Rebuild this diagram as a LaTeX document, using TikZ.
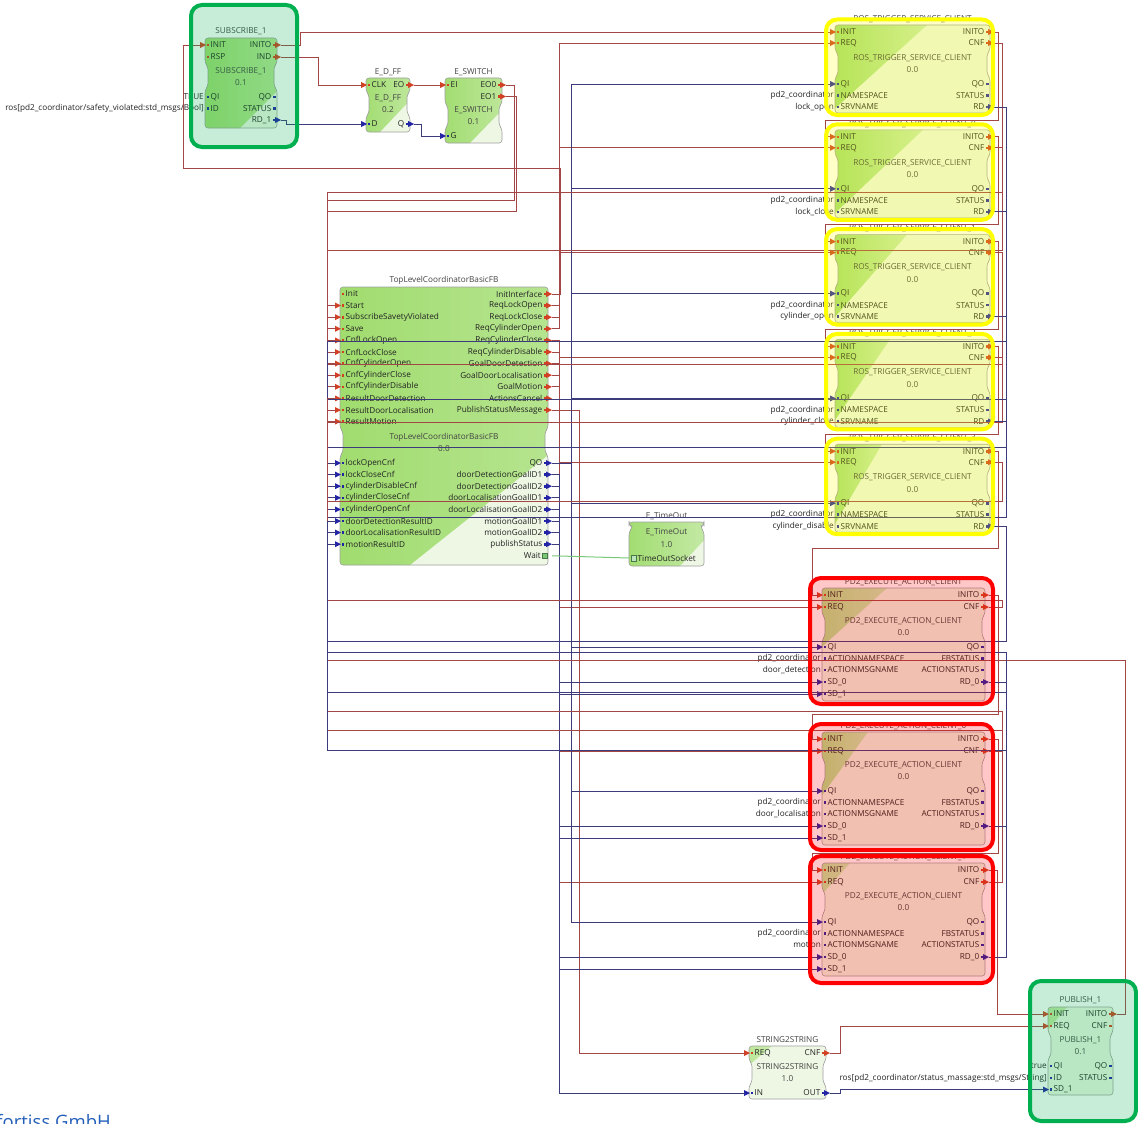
\documentclass[tikz,border=0pt]{standalone}
\usepackage{fontspec}
\setmainfont{Open Sans}
\definecolor{fbG}{RGB}{160,220,110}
\definecolor{fbL}{RGB}{238,247,228}
\definecolor{fbE}{RGB}{160,160,160}
\definecolor{evw}{RGB}{165,70,70}
\definecolor{dtw}{RGB}{60,60,125}
\definecolor{adw}{RGB}{120,200,120}
\definecolor{evm}{RGB}{210,65,35}
\definecolor{dtm}{RGB}{35,35,165}
\definecolor{txt}{RGB}{35,35,35}
\definecolor{hlG}{RGB}{0,176,80}
\definecolor{hlY}{RGB}{255,255,0}
\definecolor{hlR}{RGB}{255,0,0}
\definecolor{fortiss}{RGB}{35,95,185}
\newcommand\fs{\fontsize{8.2}{9}\selectfont}
\tikzset{
  plab/.style={font=\fs,text=txt,inner sep=0pt},
  ttl/.style={font=\fs,text=txt!85,inner sep=0pt},
  ev/.style={draw=evw,line width=0.8pt},
  dt/.style={draw=dtw,line width=0.8pt},
  ad/.style={draw=adw,line width=1pt},
  fbline/.style={draw=fbE,line width=0.6pt,rounded corners=3pt},
  hl/.style={line width=4pt,rounded corners=11pt,fill opacity=0.22},
}
% block: name x1 y1 x2 y2 neck1 neck2 diagTopX diagBotX
\newcommand\fb[9]{%
  \begin{scope}
    \clip[rounded corners=3pt] (#2,#3) -- (#4,#3) -- (#4,#6) -- (#4-3,#6+4) -- (#4-3,#7-4) -- (#4,#7) -- (#4,#5) -- (#2,#5) -- (#2,#7) -- (#2+3,#7-4) -- (#2+3,#6+4) -- (#2,#6) -- cycle;
    \fill[fbL] (#2-5,#3-5) rectangle (#4+5,#5+5);
    \shade[left color=fbG,right color=fbG!55!white] (#2-5,#3) -- (#8,#3) -- (#9,#5) -- (#2-5,#5) -- cycle;
  \end{scope}
  \draw[fbline] (#2,#3) -- (#4,#3) -- (#4,#6) -- (#4-3,#6+4) -- (#4-3,#7-4) -- (#4,#7) -- (#4,#5) -- (#2,#5) -- (#2,#7) -- (#2+3,#7-4) -- (#2+3,#6+4) -- (#2,#6) -- cycle;
  \pgfmathsetmacro\cx{(#2+#4)/2}\pgfmathsetmacro\cy{((#3)+(#5))/2}%
  \pgfmathsetmacro\bw{(#4)-(#2)}\pgfmathsetmacro\bh{(#5)-(#3)}%
  \node[inner sep=0pt,minimum width=\bw pt,minimum height=\bh pt] (#1) at (\cx,\cy) {};
  \xdef\bxl{#2}\xdef\bxr{#4}\xdef\bxc{\cx}}
\newcommand\mkin[3]{\fill[#3] (#1-6,#2-3) -- (#1,#2) -- (#1-6,#2+3) -- cycle;}
\newcommand\mkout[3]{\fill[#3] (#1-1,#2-3) -- (#1+5,#2) -- (#1-1,#2+3) -- cycle;}
\newcommand\dotin[3]{\fill[#3] (#1+1.5,#2-1.3) rectangle (#1+4,#2+1.3);}
\newcommand\dotout[3]{\fill[#3] (#1-4,#2-1.3) rectangle (#1-1.5,#2+1.3);}
% port in/out: id label y colour connected
\newcommand\pin[5]{%
  \coordinate (#1) at (\bxl-4,#3);
  \node[plab,anchor=west] (#1-t) at (\bxl+5.5,#3) {#2};
  \dotin{\bxl}{#3}{#4}%
  \ifnum#5=1 \mkin{\bxl+1}{#3}{#4}\fi}
\newcommand\pout[5]{%
  \coordinate (#1) at (\bxr+4,#3);
  \node[plab,anchor=east] (#1-t) at (\bxr-5.5,#3) {#2};
  \dotout{\bxr}{#3}{#4}%
  \ifnum#5=1 \mkout{\bxr-1}{#3}{#4}\fi}
\newcommand\ctext[3]{\node[ttl] (#1) at (\bxc,#3) {#2};}
\begin{document}
\begin{tikzpicture}[x=1pt,y=-1pt]
\useasboundingbox (0,0) rectangle (1138,1124);
\fill[white] (0,0) rectangle (1138,1124);

% ---------- SUBSCRIBE_1
\fb{sub}{205}{38}{277}{128}{63}{90}{330}{240}
\ctext{sub-ti}{SUBSCRIBE\_1}{31}
\ctext{sub-n}{SUBSCRIBE\_1}{71}
\ctext{sub-v}{0.1}{83}
\pin{sub-INIT}{INIT}{45}{evm}{1}
\pin{sub-RSP}{RSP}{57}{evm}{0}
\pin{sub-QI}{QI}{97}{dtm}{0}
\pin{sub-ID}{ID}{108.5}{dtm}{0}
\pout{sub-INITO}{INITO}{45}{evm}{1}
\pout{sub-IND}{IND}{57}{evm}{1}
\pout{sub-QO}{QO}{97}{dtm}{0}
\pout{sub-ST}{STATUS}{108.5}{dtm}{0}
\pout{sub-RD1}{RD\_1}{120}{dtm}{1}
\node[plab,anchor=east] (sub-c1) at (204,97) {TRUE};
\node[plab,anchor=east] (sub-c2) at (204,108.5) {ros[pd2\_coordinator/safety\_violated:std\_msgs/Bool]};

% ---------- E_D_FF
\fb{dff}{366}{78}{410}{132}{91}{117}{431}{380}
\ctext{dff-ti}{E\_D\_FF}{72}
\ctext{dff-n}{E\_D\_FF}{98}
\ctext{dff-v}{0.2}{110}
\pin{dff-CLK}{CLK}{85}{evm}{1}
\pin{dff-D}{D}{124}{dtm}{1}
\pout{dff-EO}{EO}{85}{evm}{1}
\pout{dff-Q}{Q}{124}{dtm}{1}

% ---------- E_SWITCH
\fb{esw}{445}{78}{502}{143}{103}{129}{533}{470}
\ctext{esw-ti}{E\_SWITCH}{72}
\ctext{esw-n}{E\_SWITCH}{110}
\ctext{esw-v}{0.1}{122}
\pin{esw-EI}{EI}{85}{evm}{1}
\pin{esw-G}{G}{136}{dtm}{1}
\pout{esw-EO0}{EO0}{85}{evm}{1}
\pout{esw-EO1}{EO1}{96.5}{evm}{1}

% ---------- TopLevelCoordinatorBasicFB
\fb{tl}{340}{287}{548}{565}{428}{456}{759}{410}
\ctext{tl-ti}{TopLevelCoordinatorBasicFB}{280}
\ctext{tl-n}{TopLevelCoordinatorBasicFB}{437}
\ctext{tl-v}{0.0}{449}
\pin{tl-ei0}{Init}{294}{evm}{0}
\foreach \i/\t in {1/Start,2/SubscribeSavetyViolated,3/Save,4/CnfLockOpen,5/CnfLockClose,6/CnfCylinderOpen,7/CnfCylinderClose,8/CnfCylinderDisable,9/ResultDoorDetection,10/ResultDoorLocalisation,11/ResultMotion}{%
  \pgfmathsetmacro\yy{294+11.6*\i}\pin{tl-ei\i}{\t}{\yy}{evm}{1}}
\foreach \i/\t in {0/InitInterface,1/ReqLockOpen,2/ReqLockClose,3/ReqCylinderOpen,4/ReqCylinderClose,5/ReqCylinderDisable,6/GoalDoorDetection,7/GoalDoorLocalisation,8/GoalMotion,9/ActionsCancel,10/PublishStatusMessage}{%
  \pgfmathsetmacro\yy{294+11.6*\i}\pout{tl-eo\i}{\t}{\yy}{evm}{1}}
\foreach \i/\t in {0/lockOpenCnf,1/lockCloseCnf,2/cylinderDisableCnf,3/cylinderCloseCnf,4/cylinderOpenCnf,5/doorDetectionResultID,6/doorLocalisationResultID,7/motionResultID}{%
  \pgfmathsetmacro\yy{463+11.6*\i}\pin{tl-di\i}{\t}{\yy}{dtm}{1}}
\foreach \i/\t in {0/QO,1/doorDetectionGoalID1,2/doorDetectionGoalID2,3/doorLocalisationGoalID1,4/doorLocalisationGoalID2,5/motionGoalID1,6/motionGoalID2,7/publishStatus}{%
  \pgfmathsetmacro\yy{463+11.6*\i}\pout{tl-do\i}{\t}{\yy}{dtm}{1}}
\coordinate (tl-do8) at (552,555.8);
\node[plab,anchor=east] (tl-do8-t) at (541,555.8) {Wait};
\filldraw[draw=adw!60!black,fill=adw,line width=0.4pt] (542.5,553) rectangle (547.5,558.6);

% ---------- E_TimeOut
\fb{to}{629}{522}{704}{566}{524}{532}{721}{680}
\ctext{to-ti}{E\_TimeOut}{516}
\ctext{to-n}{E\_TimeOut}{532}
\ctext{to-v}{1.0}{545}
\coordinate (to-sock) at (629,558);
\filldraw[draw=adw!60!black,fill=adw!50,line width=0.4pt] (631,555) rectangle (636,561);
\node[plab,anchor=west] (to-sock-t) at (637.5,558) {TimeOutSocket};

% ---------- ROS_TRIGGER_SERVICE_CLIENT blocks
\foreach \k/\suf/\srv/\tx in {0//lock\_open/927,1/\_0/lock\_close/923,2/\_1/cylinder\_open/907,3/\_2/cylinder\_close/890,4/\_3/cylinder\_disable/882}{%
  \pgfmathsetmacro\dy{104.8*\k}
  \fb{r\k}{835}{25+\dy}{990}{113+\dy}{50+\dy}{78+\dy}{\tx}{830}
  \node[ttl] (r\k-ti) at (912.5,19+\dy) {ROS\_TRIGGER\_SERVICE\_CLIENT\suf};
  \ctext{r\k-n}{ROS\_TRIGGER\_SERVICE\_CLIENT}{58+\dy}
  \ctext{r\k-v}{0.0}{70+\dy}
  \pin{r\k-INIT}{INIT}{32+\dy}{evm}{1}
  \pin{r\k-REQ}{REQ}{43+\dy}{evm}{1}
  \pin{r\k-QI}{QI}{84+\dy}{dtm}{1}
  \pin{r\k-NS}{NAMESPACE}{95.5+\dy}{dtm}{0}
  \pin{r\k-SN}{SRVNAME}{107+\dy}{dtm}{0}
  \pout{r\k-INITO}{INITO}{32+\dy}{evm}{1}
  \pout{r\k-CNF}{CNF}{43+\dy}{evm}{1}
  \pout{r\k-QO}{QO}{84+\dy}{dtm}{0}
  \pout{r\k-ST}{STATUS}{95.5+\dy}{dtm}{0}
  \pout{r\k-RD}{RD}{107+\dy}{dtm}{1}
  \node[plab,anchor=east] (r\k-c1) at (834,95.5+\dy) {pd2\_coordinator};
  \node[plab,anchor=east] (r\k-c2) at (834,107+\dy) {\srv};
}

% ---------- PD2_EXECUTE_ACTION_CLIENT blocks
\foreach \k/\yi/\suf/\nm/\tx/\bx in {1/595//door\_detection/887/762,2/739/\_0/door\_localisation/868/786,3/870/\_1/motion/850/749}{%
  \fb{p\k}{822}{\yi-7}{985}{\yi+106}{\yi+19}{\yi+45}{\tx}{\bx}
  \node[ttl] (p\k-ti) at (903.5,\yi-13) {PD2\_EXECUTE\_ACTION\_CLIENT\suf};
  \ctext{p\k-n}{PD2\_EXECUTE\_ACTION\_CLIENT}{\yi+26}
  \ctext{p\k-v}{0.0}{\yi+38}
  \pin{p\k-INIT}{INIT}{\yi}{evm}{1}
  \pin{p\k-REQ}{REQ}{\yi+12}{evm}{1}
  \pin{p\k-QI}{QI}{\yi+52}{dtm}{1}
  \pin{p\k-ANS}{ACTIONNAMESPACE}{\yi+63.5}{dtm}{0}
  \pin{p\k-AMN}{ACTIONMSGNAME}{\yi+75}{dtm}{0}
  \pin{p\k-SD0}{SD\_0}{\yi+87}{dtm}{1}
  \pin{p\k-SD1}{SD\_1}{\yi+99}{dtm}{1}
  \pout{p\k-INITO}{INITO}{\yi}{evm}{1}
  \pout{p\k-CNF}{CNF}{\yi+12}{evm}{1}
  \pout{p\k-QO}{QO}{\yi+52}{dtm}{0}
  \pout{p\k-FB}{FBSTATUS}{\yi+63.5}{dtm}{0}
  \pout{p\k-AS}{ACTIONSTATUS}{\yi+75}{dtm}{0}
  \pout{p\k-RD0}{RD\_0}{\yi+87}{dtm}{1}
  \node[plab,anchor=east] (p\k-c1) at (821,\yi+63.5) {pd2\_coordinator};
  \node[plab,anchor=east] (p\k-c2) at (821,\yi+75) {\nm};
}

% ---------- PUBLISH_1
\fb{pub}{1048}{1007}{1113}{1095}{1032}{1059}{1067}{994}
\ctext{pub-ti}{PUBLISH\_1}{1000}
\ctext{pub-n}{PUBLISH\_1}{1040}
\ctext{pub-v}{0.1}{1052}
\pin{pub-INIT}{INIT}{1014}{evm}{1}
\pin{pub-REQ}{REQ}{1026}{evm}{1}
\pin{pub-QI}{QI}{1066}{dtm}{0}
\pin{pub-ID}{ID}{1078}{dtm}{0}
\pin{pub-SD1}{SD\_1}{1089.5}{dtm}{1}
\pout{pub-INITO}{INITO}{1014}{evm}{1}
\pout{pub-CNF}{CNF}{1026}{evm}{0}
\pout{pub-QO}{QO}{1066}{dtm}{0}
\pout{pub-ST}{STATUS}{1078}{dtm}{0}
\node[plab,anchor=east] (pub-c1) at (1047,1066) {true};
\node[plab,anchor=east] (pub-c2) at (1047,1078) {ros[pd2\_coordinator/status\_massage:std\_msgs/String]};

% ---------- STRING2STRING
\fb{ss}{749}{1046}{826}{1099}{1060}{1086}{772}{708}
\ctext{ss-ti}{STRING2STRING}{1040}
\ctext{ss-n}{STRING2STRING}{1067}
\ctext{ss-v}{1.0}{1079}
\pin{ss-REQ}{REQ}{1053}{evm}{1}
\pin{ss-IN}{IN}{1093}{dtm}{1}
\pout{ss-CNF}{CNF}{1053}{evm}{1}
\pout{ss-OUT}{OUT}{1093}{dtm}{1}

% ---------- fortiss
\node[font=\fontsize{18.5}{20}\selectfont,text=fortiss,anchor=base east,inner sep=0pt] (logo) at (111,1128) {fortiss GmbH};

% ================= connections
\draw[ev] (sub-INITO) -- (300,45) |- (r0-INIT);
\draw[ev] (sub-IND) -- (318,57) |- (dff-CLK);
\draw[dt] (sub-RD1) -- (286,120) |- (dff-D);
\draw[ev] (dff-EO) -- (esw-EI);
\draw[dt] (dff-Q) -- (421,124) |- (esw-G);
\draw[ev] (esw-EO0) -- (514,85) |- (327,200) |- (tl-ei2);
\draw[ev] (esw-EO1) -- (516,96.5) |- (327,211) |- (tl-ei3);
\draw[ev] (tl-eo0) -- (560,294) |- (183,168) |- (sub-INIT);

% requests from coordinator
\draw[ev] (tl-eo1) -- ++(7,0) |- (r0-REQ);
\draw[ev] (tl-eo2) -- ++(7,0) |- (r1-REQ);
\draw[ev] (tl-eo3) -- ++(7,0) |- (r2-REQ);
\draw[ev] (tl-eo4) -- ++(7,0) |- (r3-REQ);
\draw[ev] (tl-eo5) -- ++(7,0) |- (r4-REQ);
\draw[ev] (tl-eo6) -- ++(7,0) |- (p1-REQ);
\draw[ev] (tl-eo7) -- ++(7,0) |- (p2-REQ);
\draw[ev] (tl-eo8) -- ++(7,0) |- (p3-REQ);
\draw[ev] (tl-eo10) -- ++(27,0) |- (ss-REQ);
\foreach \t in {r0,r1,r2,r3,r4,p1,p2,p3} \draw[dt] (tl-do0) -- ++(19,0) |- (\t-QI);
\draw[dt] (tl-do1) -- ++(7,0) |- (p1-SD0);
\draw[dt] (tl-do2) -- ++(7,0) |- (p1-SD1);
\draw[dt] (tl-do3) -- ++(7,0) |- (p2-SD0);
\draw[dt] (tl-do4) -- ++(7,0) |- (p2-SD1);
\draw[dt] (tl-do5) -- ++(7,0) |- (p3-SD0);
\draw[dt] (tl-do6) -- ++(7,0) |- (p3-SD1);
\draw[dt] (tl-do7) -- ++(7,0) |- (ss-IN);
\draw[ad] (tl-do8) -- (to-sock);

% init chain
\foreach \k/\n in {0/r1,1/r2,2/r3,3/r4}{%
  \pgfmathsetmacro\yy{120+104.8*\k}
  \draw[ev] (r\k-INITO) -- ++(4,0) |- (825,\yy) |- (\n-INIT);}
\draw[ev] (r4-INITO) -- ++(4,0) |- (812,548) |- (p1-INIT);
\draw[ev] (p1-INITO) -- ++(9,0) |- (812,714) |- (p2-INIT);
\draw[ev] (p2-INITO) -- ++(9,0) |- (812,853) |- (p3-INIT);
\draw[ev] (p3-INITO) -- ++(8,0) |- (pub-INIT);
\draw[ev] (pub-INITO) -- (1125,1014) |- (327,660) |- (tl-ei1);

% confirmations back to coordinator
\foreach \s/\y/\d in {r0/192/tl-ei4,r1/250/tl-ei5,r2/364/tl-ei6,r3/422/tl-ei7,r4/501/tl-ei8}
  \draw[ev] (\s-CNF) -- ++(8,0) |- (327,\y) |- (\d);
\foreach \s/\y/\d in {r0/341/tl-di0,r1/399/tl-di1,r2/447/tl-di4,r3/517/tl-di3,r4/641/tl-di2}
  \draw[dt] (\s-RD) -- ++(12,0) |- (327,\y) |- (\d);
\foreach \s/\y/\d in {p1/600/tl-ei9,p2/711/tl-ei10,p3/730/tl-ei11}
  \draw[ev] (\s-CNF) -- ++(13,0) |- (327,\y) |- (\d);
\foreach \s/\y/\d in {p1/692/tl-di5,p2/750/tl-di6,p3/652/tl-di7}
  \draw[dt] (\s-RD0) -- ++(17,0) |- (327,\y) |- (\d);

% string to publish
\draw[ev] (ss-CNF) -- (840,1053) |- (pub-REQ);
\draw[dt] (ss-OUT) -- (840,1093) |- (pub-SD1);

% ================= highlights
\filldraw[hl,draw=hlG,fill=hlG] (191,5) rectangle (297,147);
\filldraw[hl,draw=hlG,fill=hlG] (1030,981) rectangle (1136,1121);
\foreach \k in {0,...,4}{%
  \pgfmathsetmacro\dy{104.8*\k}
  \filldraw[hl,draw=hlY,fill=hlY] (826,19.5+\dy) rectangle (993,115+\dy);}
\filldraw[hl,draw=hlR,fill=hlR] (810,578) rectangle (993,704);
\filldraw[hl,draw=hlR,fill=hlR] (810,724) rectangle (993,850);
\filldraw[hl,draw=hlR,fill=hlR] (810,856) rectangle (993,983);
\end{tikzpicture}
\end{document}
